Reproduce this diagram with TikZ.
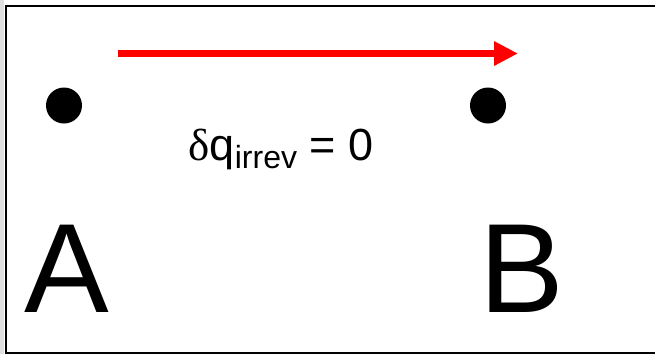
\documentclass[tikz,border=0pt]{standalone}
\usepackage{fontspec}
\setmainfont{Liberation Sans}
\newfontfamily\greekserif{Liberation Serif}
\usetikzlibrary{arrows.meta}
\begin{document}
\begin{tikzpicture}[x=1pt,y=-1pt,
  dot/.style={circle,fill=black,inner sep=0pt,minimum size=36pt},
  bigletter/.style={anchor=base,inner sep=0pt,font=\fontsize{127}{130}\selectfont},
  eqlabel/.style={anchor=base,inner sep=0pt,font=\fontsize{45}{50}\selectfont},
  process/.style={draw=red,line width=7pt,-{Triangle[length=24pt,width=23pt]}}]
\useasboundingbox (0,0) rectangle (655,354);
\fill[gray!25] (0,0) rectangle (4,354);
\draw[line width=2pt] (675,6) -- (6,6) -- (6,352.5) -- (675,352.5);
\node[dot] (a) at (64,105.5) {};
\node[dot] (b) at (488,105.5) {};
\coordinate (s) at (118,53.5);
\coordinate (e) at (518,53.5);
\draw[process] (s) -- (e);
\node[eqlabel] (q) at (281,160) {{\greekserif δ}q\raisebox{-8pt}{\fontsize{32}{36}\selectfont irrev} = 0};
\node[bigletter] (la) at (67,312) {A};
\node[bigletter] (lb) at (522,312) {B};
\end{tikzpicture}
\end{document}
